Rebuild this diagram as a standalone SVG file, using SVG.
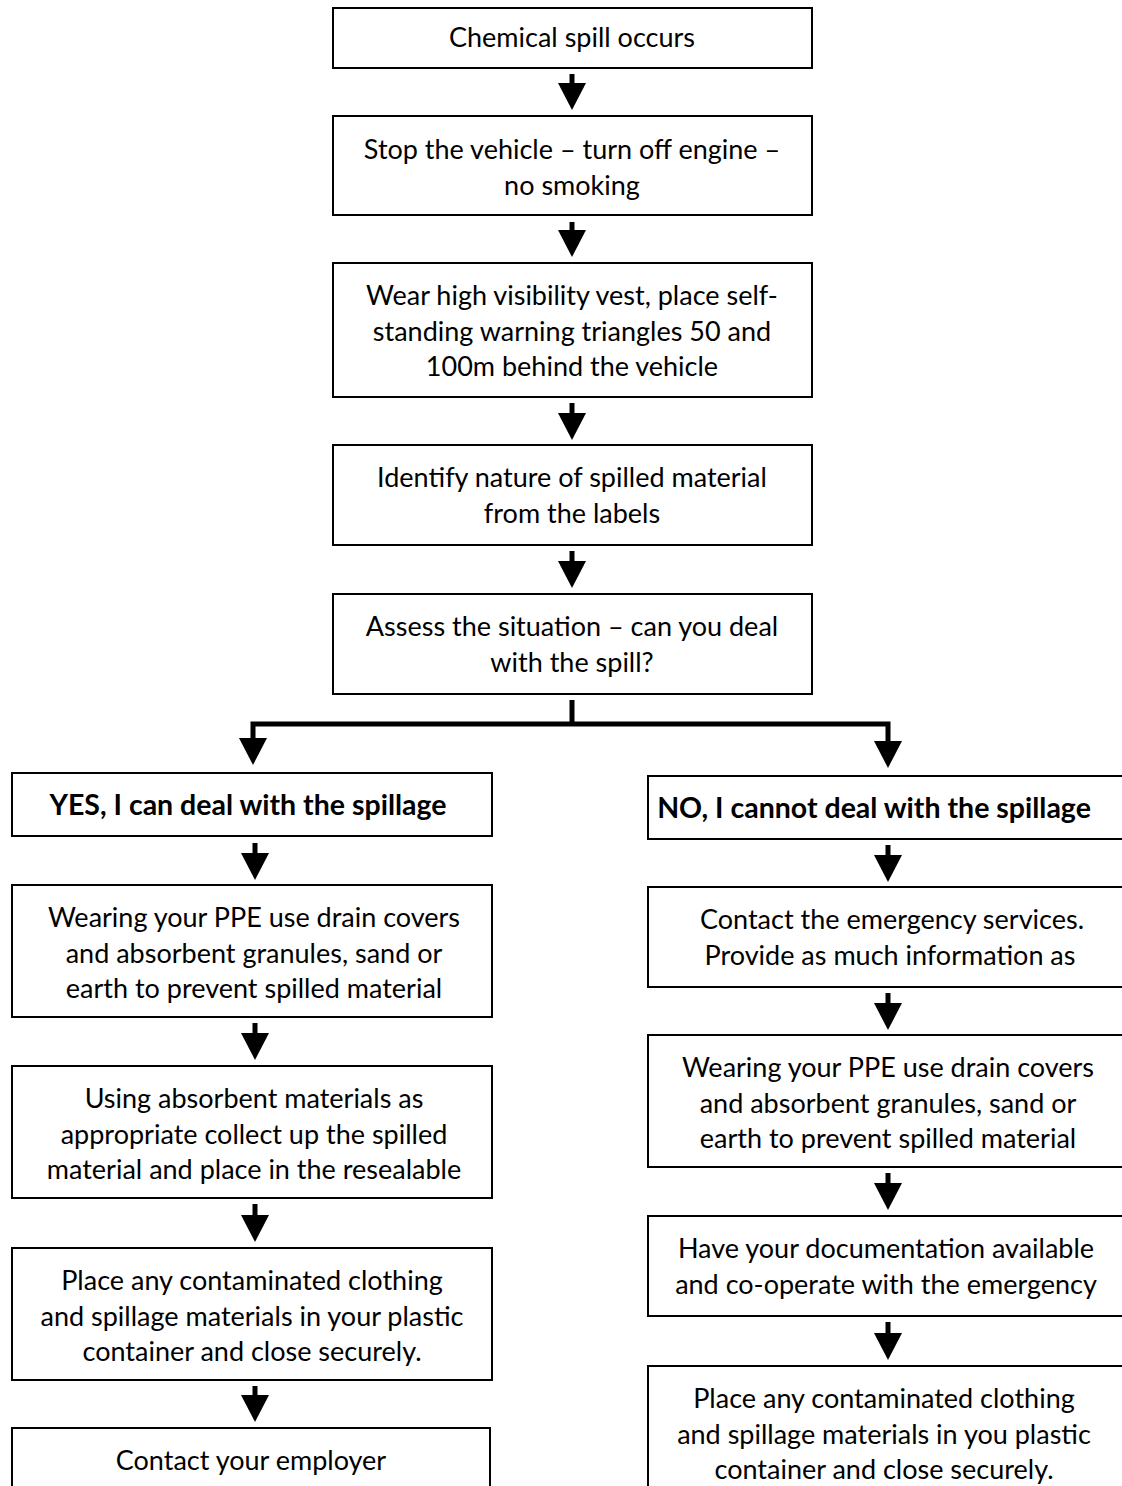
<svg xmlns="http://www.w3.org/2000/svg" width="1122" height="1486" viewBox="0 0 1122 1486">
<defs>
<style>
.box{fill:#fff;stroke:#000;stroke-width:2}
.t{font-family:Lato,"Open Sans","Liberation Sans",sans-serif;font-size:27px;fill:#000;text-anchor:middle}
.b{font-weight:bold;font-size:28.5px}
.ln{stroke:#000;stroke-width:5;fill:none}
.hd{fill:#000}
</style>
<g id="ah"><polygon class="hd" points="-14,-27 14,-27 0,0"/></g>
</defs>
<rect width="1122" height="1486" fill="#fff"/>

<g id="connectors">
  <line class="ln" x1="572" y1="74" x2="572" y2="86"/><use href="#ah" x="572" y="110"/>
  <line class="ln" x1="572" y1="222" x2="572" y2="233"/><use href="#ah" x="572" y="257"/>
  <line class="ln" x1="572" y1="403" x2="572" y2="416"/><use href="#ah" x="572" y="440"/>
  <line class="ln" x1="572" y1="551" x2="572" y2="564"/><use href="#ah" x="572" y="588"/>
  <polyline class="ln" points="572,700 572,724"/>
  <polyline class="ln" points="253,742 253,724 888,724 888,744"/>
  <use href="#ah" x="253" y="765"/>
  <use href="#ah" x="888" y="768"/>
  <line class="ln" x1="255" y1="843" x2="255" y2="856"/><use href="#ah" x="255" y="880"/>
  <line class="ln" x1="255" y1="1023" x2="255" y2="1036"/><use href="#ah" x="255" y="1060"/>
  <line class="ln" x1="255" y1="1204" x2="255" y2="1218"/><use href="#ah" x="255" y="1242"/>
  <line class="ln" x1="255" y1="1386" x2="255" y2="1398"/><use href="#ah" x="255" y="1422"/>
  <line class="ln" x1="888" y1="845" x2="888" y2="858"/><use href="#ah" x="888" y="882"/>
  <line class="ln" x1="888" y1="993" x2="888" y2="1006"/><use href="#ah" x="888" y="1030"/>
  <line class="ln" x1="888" y1="1173" x2="888" y2="1186"/><use href="#ah" x="888" y="1210"/>
  <line class="ln" x1="888" y1="1322" x2="888" y2="1336"/><use href="#ah" x="888" y="1360"/>
</g>

<g id="n1"><rect class="box" x="333" y="8" width="479" height="60"/>
<text class="t" x="572" y="47">Chemical spill occurs</text></g>

<g id="n2"><rect class="box" x="333" y="116" width="479" height="99"/>
<text class="t" x="572" y="159">Stop the vehicle – turn off engine –</text>
<text class="t" x="572" y="195">no smoking</text></g>

<g id="n3"><rect class="box" x="333" y="263" width="479" height="134"/>
<text class="t" x="572" y="305">Wear high visibility vest, place self-</text>
<text class="t" x="572" y="341">standing warning triangles 50 and</text>
<text class="t" x="572" y="376">100m behind the vehicle</text></g>

<g id="n4"><rect class="box" x="333" y="445" width="479" height="100"/>
<text class="t" x="572" y="487">Identify nature of spilled material</text>
<text class="t" x="572" y="523">from the labels</text></g>

<g id="n5"><rect class="box" x="333" y="594" width="479" height="100"/>
<text class="t" x="572" y="636">Assess the situation – can you deal</text>
<text class="t" x="572" y="672">with the spill?</text></g>

<g id="yes"><rect class="box" x="12" y="773" width="480" height="63"/>
<text class="t b" x="248" y="815">YES, I can deal with the spillage</text></g>

<g id="l2"><rect class="box" x="12" y="885" width="480" height="132"/>
<text class="t" x="254" y="927">Wearing your PPE use drain covers</text>
<text class="t" x="254" y="963">and absorbent granules, sand or</text>
<text class="t" x="254" y="998">earth to prevent spilled material</text></g>

<g id="l3"><rect class="box" x="12" y="1066" width="480" height="132"/>
<text class="t" x="254" y="1108">Using absorbent materials as</text>
<text class="t" x="254" y="1144">appropriate collect up the spilled</text>
<text class="t" x="254" y="1179">material and place in the resealable</text></g>

<g id="l4"><rect class="box" x="12" y="1248" width="480" height="132"/>
<text class="t" x="252" y="1290">Place any contaminated clothing</text>
<text class="t" x="252" y="1326">and spillage materials in your plastic</text>
<text class="t" x="252" y="1361">container and close securely.</text></g>

<g id="l5"><rect class="box" x="12" y="1428" width="478" height="80"/>
<text class="t" x="251" y="1470">Contact your employer</text></g>

<g id="no"><rect class="box" x="648" y="776" width="490" height="63"/>
<text class="t b" x="874" y="818">NO, I cannot deal with the spillage</text></g>

<g id="r2"><rect class="box" x="648" y="887" width="490" height="100"/>
<text class="t" x="892" y="929">Contact the emergency services.</text>
<text class="t" x="890" y="965">Provide as much information as</text></g>

<g id="r3"><rect class="box" x="648" y="1035" width="490" height="132"/>
<text class="t" x="888" y="1077">Wearing your PPE use drain covers</text>
<text class="t" x="888" y="1113">and absorbent granules, sand or</text>
<text class="t" x="888" y="1148">earth to prevent spilled material</text></g>

<g id="r4"><rect class="box" x="648" y="1216" width="490" height="100"/>
<text class="t" x="886" y="1258">Have your documentation available</text>
<text class="t" x="886" y="1294">and co-operate with the emergency</text></g>

<g id="r5"><rect class="box" x="648" y="1366" width="490" height="140"/>
<text class="t" x="884" y="1408">Place any contaminated clothing</text>
<text class="t" x="884" y="1444">and spillage materials in you plastic</text>
<text class="t" x="884" y="1479">container and close securely.</text></g>
</svg>
